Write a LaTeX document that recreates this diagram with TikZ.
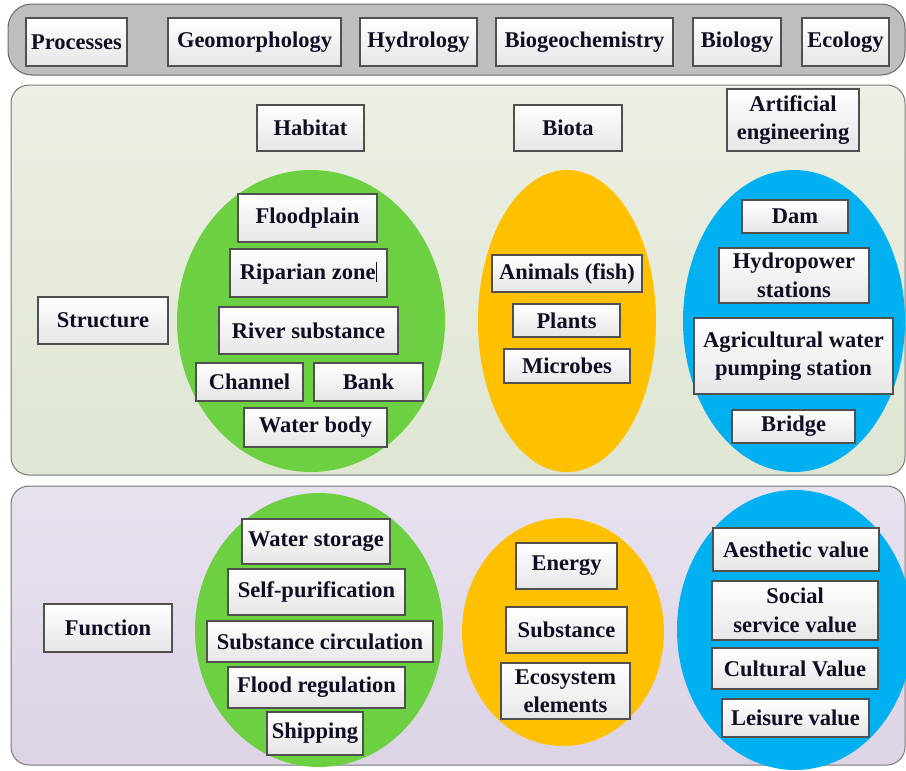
\documentclass[tikz,border=0pt]{standalone}
\usepackage{fontspec}
\setmainfont{LiberationSerif}[Extension=.ttf, UprightFont=*-Regular, BoldFont=*-Bold, ItalicFont=*-Italic, BoldItalicFont=*-BoldItalic]
\usetikzlibrary{shadows}
\definecolor{bargray}{RGB}{190,190,190}
\definecolor{barline}{RGB}{105,105,105}
\definecolor{strtop}{RGB}{236,239,228}
\definecolor{strbot}{RGB}{223,230,211}
\definecolor{funtop}{RGB}{232,226,239}
\definecolor{funbot}{RGB}{220,211,229}
\definecolor{panline}{RGB}{120,120,120}
\definecolor{boxline}{RGB}{80,80,80}
\definecolor{boxbot}{RGB}{230,230,230}
\definecolor{txt}{RGB}{15,15,35}
\definecolor{elgreen}{RGB}{108,208,66}
\definecolor{elyellow}{RGB}{255,192,0}
\definecolor{elblue}{RGB}{0,176,240}
\tikzset{
  bx/.style={draw=boxline, line width=1.2pt, top color=white, bottom color=boxbot,
    inner sep=0pt, align=center, text=txt,
    font=\bfseries\fontsize{22.5}{28.5}\selectfont,
    drop shadow={shadow xshift=1pt, shadow yshift=-1pt, opacity=0.3, fill=black}},
  panel/.style={draw=panline, line width=1pt, rounded corners=18pt},
}
\newcommand\bxnode[6]{\node[bx, minimum width=#4, minimum height=#5] (#1) at (#2,#3) {#6};}
\begin{document}
\begin{tikzpicture}[x=1pt,y=-1pt]
\useasboundingbox (0,0) rectangle (906,771);
% top bar
\draw[draw=barline, line width=1pt, fill=bargray, rounded corners=24pt] (8,4) rectangle (905,75);
% panels
\draw[panel, top color=strtop, bottom color=strbot] (11,85) rectangle (905,475);
\draw[panel, top color=funtop, bottom color=funbot] (11,486) rectangle (905,765);
% ellipses
\fill[elgreen] (311,321) ellipse [x radius=134, y radius=151];
\fill[elyellow] (567,321) ellipse [x radius=89, y radius=151];
\fill[elblue] (794,321) ellipse [x radius=111, y radius=151];
\fill[elgreen] (319,630) ellipse [x radius=124, y radius=137];
\fill[elyellow] (563,632) ellipse [x radius=101, y radius=114];
\fill[elblue] (795,630) ellipse [x radius=118, y radius=140];
% top boxes
\bxnode{proc}{76.5}{42}{101}{48}{Processes}
\bxnode{geo}{254.5}{42}{173}{48}{Geomorphology}
\bxnode{hyd}{418.5}{42}{117}{48}{Hydrology}
\bxnode{bgc}{584.5}{42}{177}{48}{Biogeochemistry}
\bxnode{biol}{737}{42}{88}{48}{Biology}
\bxnode{eco}{845.5}{42}{87}{48}{Ecology}
% structure
\bxnode{struct}{103}{320.5}{130}{47}{Structure}
\bxnode{habitat}{310.5}{128}{107}{46}{Habitat}
\bxnode{biota}{568}{128}{108}{46}{Biota}
\bxnode{artif}{793}{120}{132}{62}{Artificial\\engineering}
\bxnode{flood}{307.5}{218}{139}{48}{Floodplain}
\bxnode{ripar}{308.5}{273}{157}{48}{Riparian zone\kern0.5pt\rule[-3pt]{0.9pt}{20pt}}
\bxnode{rivsub}{308.5}{330.5}{179}{47}{River substance}
\bxnode{chan}{249.5}{382}{107}{38}{Channel}
\bxnode{bank}{368.5}{382}{109}{38}{Bank}
\bxnode{wbody}{315.5}{427.5}{143}{39}{Water body}
\bxnode{animals}{567}{273.5}{150}{37}{Animals (fish)}
\bxnode{plants}{566.5}{320.5}{107}{33}{Plants}
\bxnode{microbes}{567}{366}{126}{34}{Microbes}
\bxnode{dam}{795}{216.5}{106}{33}{Dam}
\bxnode{hydro}{794}{275.5}{150}{55}{Hydropower\\stations}
\bxnode{agri}{793.5}{356}{199}{76}{Agricultural water\\pumping station}
\bxnode{bridge}{793.5}{426.5}{123}{33}{Bridge}
% function
\bxnode{func}{108}{628}{128}{48}{Function}
\bxnode{wstor}{316}{541.5}{148}{45}{Water storage}
\bxnode{selfp}{316.5}{592}{177}{46}{Self-purification}
\bxnode{subcirc}{320}{641.5}{226}{41}{Substance circulation}
\bxnode{floodr}{316.5}{687.5}{177}{41}{Flood regulation}
\bxnode{ship}{315}{733.5}{96}{43}{Shipping}
\bxnode{energy}{566.5}{566}{101}{46}{Energy}
\bxnode{subst}{566.5}{630}{121}{46}{Substance}
\bxnode{ecosys}{565.5}{691}{129}{56}{Ecosystem\\elements}
\bxnode{aesth}{796}{549.5}{166}{43}{Aesthetic value}
\bxnode{social}{795}{610.5}{166}{59}{Social\\service value}
\bxnode{cult}{795}{668.5}{166}{41}{Cultural Value}
\bxnode{leis}{795.5}{718}{147}{38}{Leisure value}
\end{tikzpicture}
\end{document}
